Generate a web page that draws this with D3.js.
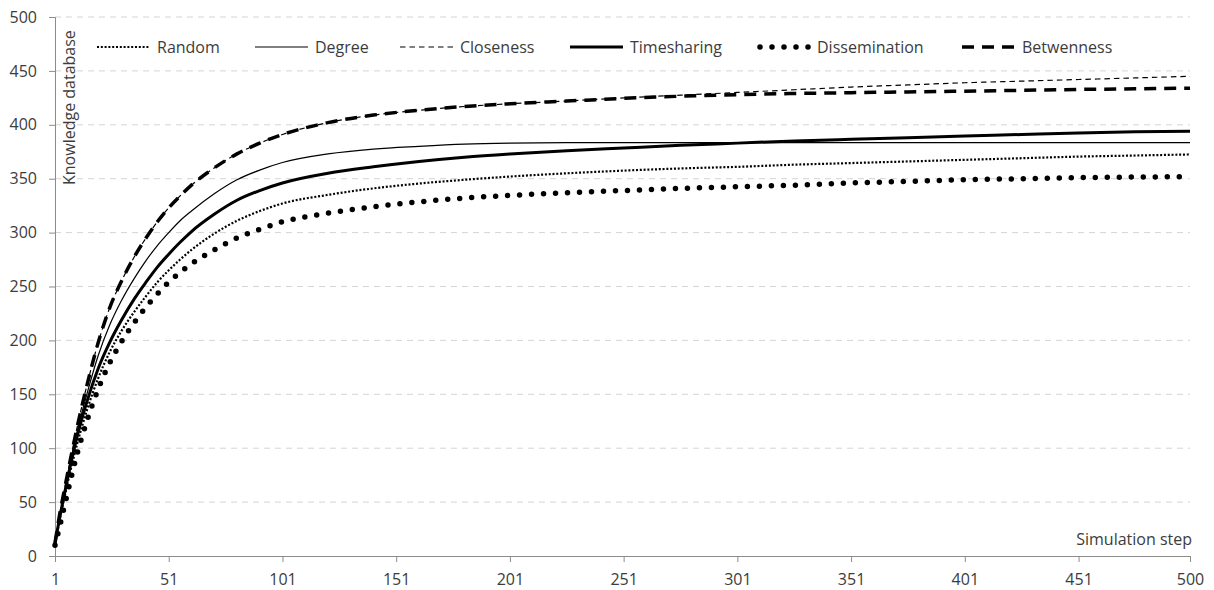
<!DOCTYPE html>
<html><head><meta charset="utf-8">
<script src="https://cdn.jsdelivr.net/npm/d3@7"></script>
<style>
html,body{margin:0;padding:0;background:#fff;}
svg text{font-family:"Open Sans","DejaVu Sans",sans-serif;fill:#3c3c3c;}
</style></head>
<body>
<svg id="chart" width="1214" height="590"></svg>
<script>
// Simulation steps at which values were read
const steps = [1,3,5,8,11,15,20,25,30,36,41,46,51,56,61,71,81,91,101,121,141,161,181,201,226,251,276,301,326,351,376,401,426,451,476,500];
const random        = [11,33,53,81,106,135,165,189,208,227,241,254,265,275,284,299,311,320,327,335,341,345.5,349,352,355,357.5,359.5,361,363,364.5,366,367.5,369,370.5,371.5,372.5];
const degree        = [12,36,58,90,118,150,186,214,236,258,274,288,300,311,320,336,349,358,365,373,377.5,380,382,383,383.5,383.5,383.5,383.5,383.5,383.5,383.5,383.5,383.5,383.5,383.5,383.5];
const closeness     = [12,38,60,92,122,158,198,230,254,278,295,310,323,334,344,360,373,383,391,402,409,413.5,417,419.5,422,425,427.5,430,432.5,435,437,439,440.5,442,443.5,445];
const timesharing   = [12,35,56,86,113,143,174,198,218,239,254,268,280,291,301,317,330,339,346,355,361,366,370,373,376,378.5,381,383,385,386.5,388,389.5,391,392.5,393.5,394];
const dissemination = [10,27,45,72,97,125,155,179,198,217,231,243,254,263,271,284,295,303,310,318,324,328.5,332,334.5,337,339,341,342.5,344,346,347.5,349,350,351,351.5,352];
const betwenness    = [12,38,60,92,122,158,198,230,254,278,295,310,323,334,344,360,373,383,391,402,409,413.5,417,419.5,422,424.5,426.5,428,429,429.8,430.5,431.2,432,432.8,433.4,434];

const seriesNames = ["Random","Degree","Closeness","Timesharing","Dissemination","Betwenness"];
const seriesValues = [random, degree, closeness, timesharing, dissemination, betwenness];
const xTicks = [1,51,101,151,201,251,301,351,401,451,500];
const yTicks = [0,50,100,150,200,250,300,350,400,450,500];

const styles = {
  Random:        {w:2.2, dash:"2 1.8", cap:"butt"},
  Degree:        {w:1.2, dash:null, cap:"butt"},
  Closeness:     {w:1.2, dash:"5.5 4", cap:"butt"},
  Timesharing:   {w:3,   dash:null, cap:"butt"},
  Dissemination: {w:5.5, dash:"0 12", cap:"round"},
  Betwenness:    {w:3.5, dash:"12 8", cap:"butt"}
};

const svg = d3.select("#chart");
const x = d3.scaleLinear().domain([1,500]).range([55,1190]);
const y = d3.scaleLinear().domain([0,500]).range([556,17]);

// gridlines
svg.append("g").selectAll("line").data(yTicks.filter(d=>d>0)).join("line")
  .attr("x1",55).attr("x2",1190)
  .attr("y1",d=>y(d)).attr("y2",d=>y(d))
  .attr("stroke","#d4d4d4").attr("stroke-width",1).attr("stroke-dasharray","6 5");

// y axis
const yAxis = svg.append("g").attr("transform","translate(55,0)")
  .call(d3.axisLeft(y).tickValues(yTicks).tickSize(6).tickPadding(12));
yAxis.select(".domain").attr("stroke","#8c8c8c");
yAxis.selectAll(".tick line").attr("stroke","#8c8c8c");
yAxis.selectAll("text").style("font-size","16px").attr("fill","#3c3c3c");

// x axis
const xAxis = svg.append("g").attr("transform","translate(0,556)")
  .call(d3.axisBottom(x).tickValues(xTicks).tickFormat(d3.format("d")).tickSize(6).tickPadding(12));
xAxis.select(".domain").attr("stroke","#8c8c8c");
xAxis.selectAll(".tick line").attr("stroke","#8c8c8c");
xAxis.selectAll("text").style("font-size","16px").attr("fill","#3c3c3c");

// axis titles
svg.append("text").attr("transform","translate(75,185) rotate(-90)")
  .style("font-size","16px").text("Knowledge database");
svg.append("text").attr("x",1192).attr("y",545).attr("text-anchor","end")
  .style("font-size","16px").text("Simulation step");

// lines
const line = d3.line().x(d=>x(d[0])).y(d=>y(d[1])).curve(d3.curveMonotoneX);
seriesNames.forEach((name,i)=>{
  const s = styles[name];
  const data = steps.map((st,j)=>[st, seriesValues[i][j]]);
  svg.append("path").datum(data).attr("d",line)
    .attr("fill","none").attr("stroke","#000")
    .attr("stroke-width",s.w).attr("stroke-linecap",s.cap)
    .attr("stroke-dasharray",s.dash);
});

// legend
const legendX = [97,255,400,570,757,962];
const lg = svg.append("g");
seriesNames.forEach((name,i)=>{
  const s = styles[name];
  const x0 = legendX[i];
  lg.append("line").attr("x1",x0 + (name==="Dissemination"?3:0)).attr("x2",x0+53).attr("y1",47).attr("y2",47)
    .attr("stroke","#000").attr("stroke-width",s.w).attr("stroke-linecap",s.cap)
    .attr("stroke-dasharray",s.dash);
  lg.append("text").attr("x",x0+60).attr("y",53).style("font-size","16px").text(name);
});
</script>
</body></html>
